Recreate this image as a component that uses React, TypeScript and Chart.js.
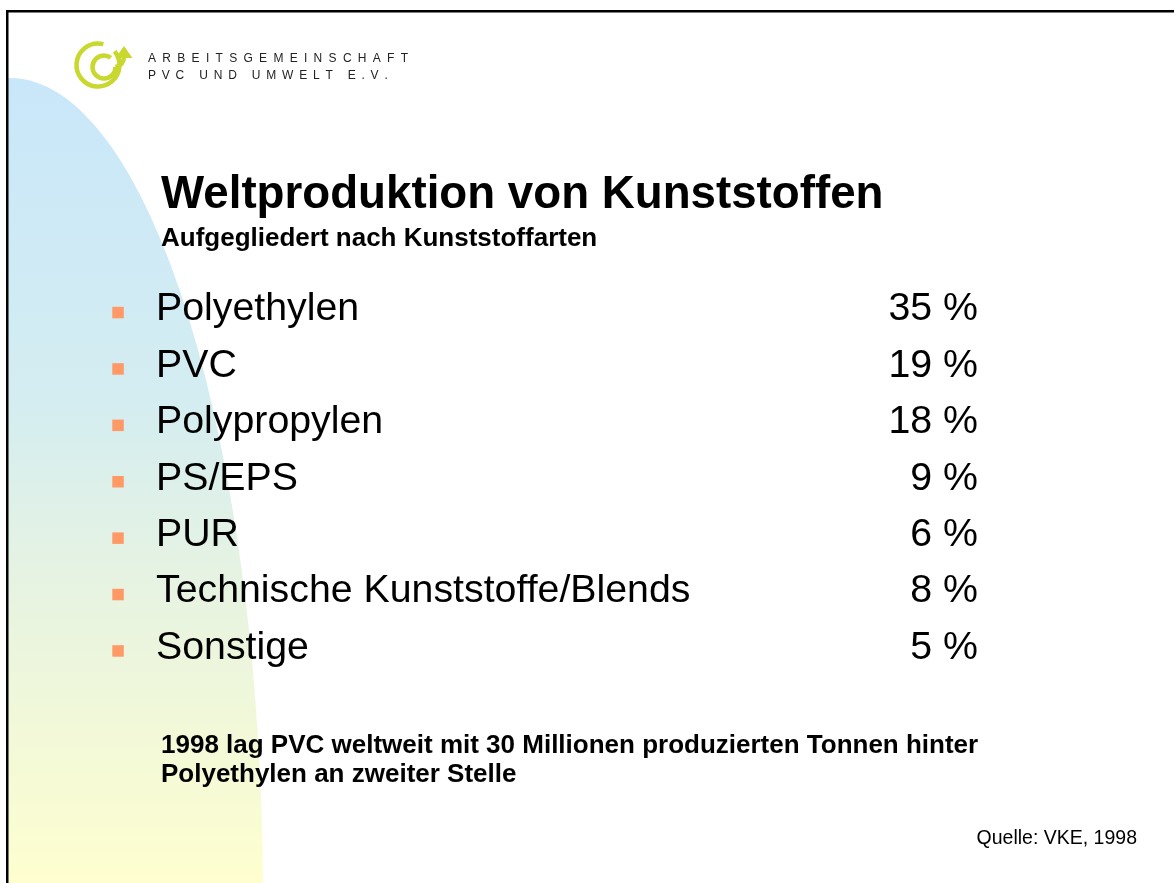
import React, { useEffect, useRef } from 'react';
import { Chart, registerables } from 'chart.js';

Chart.register(...registerables);

// ---- data ----
const categories = [
  'Polyethylen',
  'PVC',
  'Polypropylen',
  'PS/EPS',
  'PUR',
  'Technische Kunststoffe/Blends',
  'Sonstige',
];
const shares = [35, 19, 18, 9, 6, 8, 5];
const shareLabels = shares.map((v) => `${v} %`);

const titleText = 'Weltproduktion von Kunststoffen';
const subtitleText = 'Aufgegliedert nach Kunststoffarten';
const noteLines = [
  '1998 lag PVC weltweit mit 30 Millionen produzierten Tonnen hinter',
  'Polyethylen an zweiter Stelle',
];
const sourceText = 'Quelle: VKE, 1998';
const logoLines = ['ARBEITSGEMEINSCHAFT', 'PVC UND UMWELT E.V.'];

const FONT = '"Liberation Sans", Arial, Helvetica, sans-serif';
const W = 1174;
const H = 883;

function spacedText(ctx: CanvasRenderingContext2D, text: string, x: number, y: number, spacing: number) {
  let cx = x;
  for (const ch of text) {
    ctx.fillText(ch, cx, y);
    cx += ctx.measureText(ch).width + spacing;
  }
}

const slidePlugin = {
  id: 'slide',
  beforeDraw(chart: any) {
    const ctx: CanvasRenderingContext2D = chart.ctx;
    ctx.save();
    ctx.fillStyle = '#ffffff';
    ctx.fillRect(0, 0, W, H);

    // background half-ellipse with gradient
    ctx.save();
    ctx.beginPath();
    ctx.rect(8, 12, W, H);
    ctx.clip();
    const grad = ctx.createLinearGradient(0, 78, 0, H);
    grad.addColorStop(0, '#c9e7fa');
    grad.addColorStop(0.4, '#d4edf1');
    grad.addColorStop(0.62, '#e6f3e2');
    grad.addColorStop(1, '#fefecf');
    ctx.fillStyle = grad;
    ctx.beginPath();
    ctx.ellipse(10, 900, 253, 822, 0, 0, Math.PI * 2);
    ctx.fill();
    ctx.restore();

    // frame
    ctx.fillStyle = '#000000';
    ctx.fillRect(6, 10, W - 6, 2.5);
    ctx.fillRect(6, 10, 2.5, H - 10);

    // logo
    ctx.strokeStyle = '#c8d82f';
    ctx.fillStyle = '#c8d82f';
    ctx.lineWidth = 4.5;
    ctx.beginPath();
    ctx.arc(98, 65, 21.5, -0.22 * Math.PI, 1.58 * Math.PI);
    ctx.stroke();
    ctx.beginPath();
    ctx.arc(104, 67, 11.5, 0, 1.7 * Math.PI);
    ctx.stroke();
    ctx.beginPath();
    ctx.moveTo(115.5, 67);
    ctx.quadraticCurveTo(124, 65, 124, 56);
    ctx.stroke();
    ctx.beginPath();
    ctx.moveTo(124, 46);
    ctx.lineTo(132.5, 58);
    ctx.lineTo(115.5, 58);
    ctx.closePath();
    ctx.fill();

    ctx.fillStyle = '#222222';
    ctx.font = `12px ${FONT}`;
    ctx.textBaseline = 'alphabetic';
    ctx.textAlign = 'left';
    spacedText(ctx, logoLines[0], 148, 62, 6.3);
    spacedText(ctx, logoLines[1], 148, 79, 5.8);

    // title + subtitle
    ctx.fillStyle = '#000000';
    ctx.font = `bold 45.7px ${FONT}`;
    ctx.fillText(titleText, 161, 208);
    ctx.font = `bold 26px ${FONT}`;
    ctx.fillText(subtitleText, 161, 246);
    ctx.restore();
  },
  afterDraw(chart: any) {
    const ctx: CanvasRenderingContext2D = chart.ctx;
    const yScale = chart.scales.y;
    ctx.save();
    ctx.textBaseline = 'alphabetic';
    categories.forEach((name, i) => {
      const y = yScale.getPixelForValue(i);
      // bullet
      ctx.fillStyle = '#ff9966';
      ctx.fillRect(112.3, y + 0.3, 11.5, 11.5);
      // category name
      ctx.fillStyle = '#000000';
      ctx.font = `39.3px ${FONT}`;
      ctx.textAlign = 'left';
      ctx.fillText(name, 156, y + 13.8);
      // share
      ctx.textAlign = 'right';
      ctx.fillText(shareLabels[i], 978, y + 13.8);
    });

    ctx.fillStyle = '#000000';
    ctx.textAlign = 'left';
    ctx.font = `bold 26px ${FONT}`;
    ctx.fillText(noteLines[0], 161, 753);
    ctx.fillText(noteLines[1], 161, 782);

    ctx.textAlign = 'right';
    ctx.font = `19.5px ${FONT}`;
    ctx.fillText(sourceText, 1137, 844);
    ctx.restore();
  },
};

export default function App() {
  const canvasRef = useRef<HTMLCanvasElement | null>(null);

  useEffect(() => {
    const canvas = canvasRef.current;
    if (!canvas) return;
    const chart = new Chart(canvas, {
      type: 'line',
      data: {
        labels: categories,
        datasets: [
          {
            label: 'Anteil an der Weltproduktion (%)',
            data: shares,
            showLine: false,
            pointRadius: 0,
            pointHoverRadius: 0,
            xAxisID: 'x',
            yAxisID: 'y',
          },
        ],
      },
      options: {
        indexAxis: 'y',
        responsive: false,
        animation: false,
        events: [],
        layout: { padding: { left: 156, right: 196, top: 306.5, bottom: 238.1 } },
        plugins: {
          legend: { display: false },
          tooltip: { enabled: false },
          title: { display: false },
        },
        scales: {
          x: { type: 'linear', display: false, min: 0, max: 40 },
          y: { type: 'category', display: false, offset: false },
        },
      } as any,
      plugins: [slidePlugin],
    });
    return () => chart.destroy();
  }, []);

  return (
    <canvas
      ref={canvasRef}
      width={W}
      height={H}
      style={{ position: 'fixed', left: 0, top: 0, width: W, height: H, display: 'block' }}
    />
  );
}
